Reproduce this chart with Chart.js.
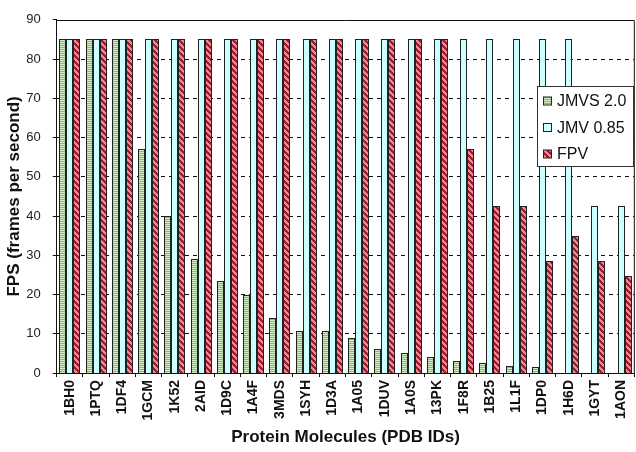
<!DOCTYPE html>
<html>
<head>
<meta charset="utf-8">
<script src="https://cdn.jsdelivr.net/npm/chart.js@4.4.0/dist/chart.umd.min.js"></script>
<style>
  html, body { margin: 0; padding: 0; background: #fff; overflow: hidden; }
  #wrap { width: 641px; height: 452px; }
</style>
</head>
<body>
<div id="wrap"><canvas id="fps_chart" width="641" height="452"></canvas></div>
<script>
// data
const molecules = ['1BH0','1PTQ','1DF4','1GCM','1K52','2AID','1D9C','1A4F','3MDS','1SYH','1D3A',
                   '1A05','1DUV','1A0S','13PK','1F8R','1B25','1L1F','1DP0','1H6D','1GYT','1AON'];
const jmvs  = [85, 85, 85, 57, 40, 29, 23.5, 20, 14, 10.8, 10.6, 9, 6.1, 5.2, 4, 3, 2.6, 1.9, 1.5, 0, 0, 0];
const jmv   = [85, 85, 85, 85, 85, 85, 85, 85, 85, 85, 85, 85, 85, 85, 85, 85, 85, 85, 85, 85, 42.5, 42.5];
const fpv   = [85, 85, 85, 85, 85, 85, 85, 85, 85, 85, 85, 85, 85, 85, 85, 57, 42.5, 42.5, 28.5, 35, 28.5, 24.8];
const seriesNames = ['JMVS 2.0', 'JMV 0.85', 'FPV'];
const yTicks = [0, 10, 20, 30, 40, 50, 60, 70, 80, 90];

const fps_chart = document.getElementById('fps_chart');
const FONT = "'Liberation Sans', Arial, sans-serif";

// fill patterns, drawn pixel by pixel so they stay crisp on narrow bars
const makePattern = (w, h, pick) => {
    const c = document.createElement('canvas');
    c.width = w; c.height = h;
    const g = c.getContext('2d');
    for (let y = 0; y < h; y++) {
        for (let x = 0; x < w; x++) {
            g.fillStyle = pick(x, y);
            g.fillRect(x, y, 1, 1);
        }
    }
    return g.createPattern(c, 'repeat');
}

const greenFill = makePattern(4, 2, (x, y) => y === 1 ? '#86b876' : '#d4efc6');
const redFill   = makePattern(6, 6, (x, y) => (((x - y) % 6) + 6) % 6 < 3 ? '#962033' : '#f4878f');

const fills = [greenFill, '#ccffff', redFill];
const series = [jmvs, jmv, fpv];

// snap the bars the scales placed onto whole pixels, so the thin borders stay sharp
const snapBars = {
    id: 'snapBars',
    beforeDatasetsDraw(chart) {
        chart.data.datasets.forEach((ds, i) => {
            chart.getDatasetMeta(i).data.forEach(el => {
                const w = Math.round(el.width);
                const left = Math.round(el.x - el.width / 2);
                el.x = left + w / 2;
                el.width = w;
                el.y = Math.round(el.y);
                el.base = Math.round(el.base);
            });
        });
    }
}

// legend box drawn over the bars, like the original
const boxLegend = {
    id: 'boxLegend',
    afterDatasetsDraw(chart) {
        const ctx = chart.ctx;
        const x = 537.5, y = 86.5, w = 96, h = 80;
        ctx.save();
        ctx.fillStyle = '#fff';
        ctx.fillRect(x, y, w, h);
        ctx.strokeStyle = '#333';
        ctx.lineWidth = 1;
        ctx.strokeRect(x, y, w, h);
        ctx.font = '16px ' + FONT;
        ctx.textBaseline = 'middle';
        chart.data.datasets.forEach((ds, i) => {
            const cy = 101 + i * 26.5;
            ctx.fillStyle = ds.backgroundColor;
            ctx.fillRect(543.5, cy - 4, 8, 8);
            ctx.strokeStyle = '#222';
            ctx.strokeRect(543.5, cy - 4, 8, 8);
            ctx.fillStyle = '#111';
            ctx.fillText(ds.label, 557, cy + 1);
        });
        ctx.restore();
    }
}

// solid frame on top of the plot area
const plotFrame = {
    id: 'plotFrame',
    beforeDatasetsDraw(chart) {
        const a = chart.chartArea, ctx = chart.ctx;
        ctx.save();
        ctx.strokeStyle = '#111';
        ctx.lineWidth = 1;
        ctx.beginPath();
        ctx.moveTo(a.left, Math.round(a.top) + 0.5);
        ctx.lineTo(a.right, Math.round(a.top) + 0.5);
        ctx.lineTo(a.right, a.bottom);
        ctx.stroke();
        ctx.restore();
    }
}

var fps_chart_ref = new Chart(fps_chart, {
    type: 'bar',
    data: {
        labels: molecules,
        datasets: series.map((vals, i) => ({
            label: seriesNames[i],
            data: vals,
            backgroundColor: fills[i],
            borderColor: '#222',
            borderWidth: 1,
            borderSkipped: 'bottom',
            categoryPercentage: 0.8,
            barPercentage: 1.0
        }))
    },
    options: {
        responsive: false,
        animation: false,
        layout: { padding: { top: 14, right: 1, left: 0, bottom: 0 } },
        plugins: {
            legend: { display: false },
            tooltip: { enabled: false }
        },
        scales: {
            x: {
                afterFit: (s) => { s.height = 79; },
                grid: { drawOnChartArea: false, drawTicks: true, tickLength: 4, color: '#111', offset: true },
                border: { color: '#111', width: 1 },
                ticks: {
                    minRotation: 90, maxRotation: 90, autoSkip: false, padding: 3,
                    color: '#111', font: { family: FONT, size: 14, weight: 'bold' }
                },
                title: {
                    display: true, text: 'Protein Molecules (PDB IDs)', color: '#111',
                    font: { family: FONT, size: 17, weight: 'bold' }, padding: { top: 0, bottom: 4 }
                }
            },
            y: {
                min: 0, max: 90,
                afterFit: (s) => { s.width = 56.7; },
                afterBuildTicks: (s) => { s.ticks = yTicks.map(v => ({ value: v })); },
                grid: {
                    color: (c) => (c.tick && (c.tick.value === 0 || c.tick.value === 90)) ? 'rgba(0,0,0,0)' : '#111',
                    tickColor: '#111', tickLength: 4, drawTicks: true
                },
                border: { color: '#111', width: 1, dash: [4, 4] },
                ticks: { stepSize: 10, padding: 12, color: '#222', font: { family: FONT, size: 13 } },
                title: {
                    display: true, text: 'FPS (frames per second)', color: '#111',
                    font: { family: FONT, size: 17, weight: 'bold' }, padding: { top: 4, bottom: 0 }
                }
            }
        }
    },
    plugins: [snapBars, plotFrame, boxLegend]
})
</script>
</body>
</html>
